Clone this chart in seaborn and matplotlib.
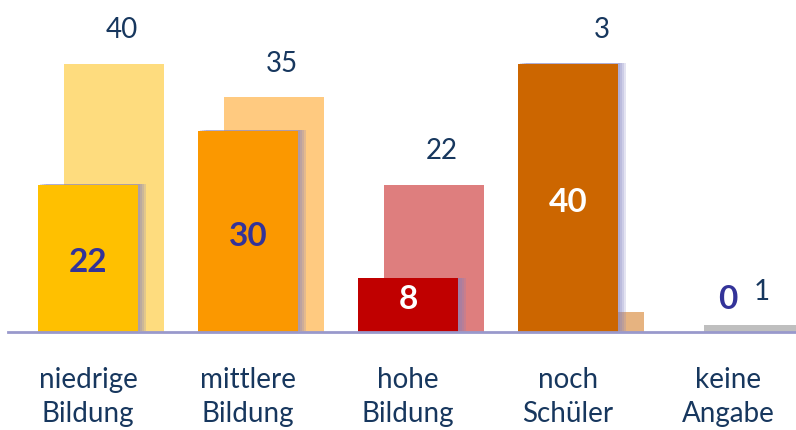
import numpy as np
import pandas as pd
import seaborn as sns
import matplotlib.pyplot as plt
import matplotlib.patheffects as pe

# Data
categories = ['niedrige\nBildung', 'mittlere\nBildung', 'hohe\nBildung', 'noch\nSchüler', 'keine\nAngabe']
front_values = [22, 30, 8, 40, 0]
back_values = [40, 35, 22, 3, 1]
front_colors = ['#FFC000', '#FB9800', '#C00000', '#CC6600', '#FFFFFF']
back_colors = ['#FEDC7E', '#FFCA80', '#DE7E7E', '#E6B380', '#BFBFBF']
front_label_colors = ['#333399', '#333399', '#FFFFFF', '#FFFFFF', '#333399']

sns.set_theme(style='white')
plt.rcParams['font.family'] = ['Lato', 'DejaVu Sans']

navy = '#17375E'
offset = 0.1625
bar_w = 0.625

fig = plt.figure(figsize=(7.96, 4.30), dpi=100)
ax = fig.add_axes([8 / 796, 98 / 430, 788 / 796, 332 / 430])

idx = np.arange(len(categories))
back_df = pd.DataFrame({'x': idx + offset, 'v': back_values})
front_df = pd.DataFrame({'x': idx.astype(float), 'v': front_values})

# back bars (previous survey)
sns.barplot(data=back_df, x='x', y='v', native_scale=True, width=bar_w, ax=ax, color='grey', saturation=1)
n_back = len(ax.patches)
for p, c in zip(ax.patches[:n_back], back_colors):
    p.set_facecolor(c)
    p.set_edgecolor('none')

# front bars with a soft shadow on the right
sns.barplot(data=front_df, x='x', y='v', native_scale=True, width=bar_w, ax=ax, color='grey', saturation=1)
shadow = [pe.SimplePatchShadow(offset=(o, 0.5), shadow_rgbFace='#8080C0', alpha=0.22) for o in (6, 4.5, 3, 1.5)]
shadow.append(pe.Normal())
for p, c, v in zip(ax.patches[n_back:], front_colors, front_values):
    p.set_facecolor(c)
    p.set_edgecolor('none')
    p.set_zorder(3)
    if v > 0:
        p.set_path_effects(shadow)

# value labels
for i in idx:
    top = max(front_values[i], back_values[i])
    ax.text(i + offset + 0.05, top + 5, str(back_values[i]), ha='center', va='center',
            fontsize=20, color=navy, zorder=5)
    fv = front_values[i]
    ax.text(i, max(fv / 2 - 0.7, 4.8), str(fv), ha='center', va='center', fontsize=24,
            fontweight='bold', color=front_label_colors[i], zorder=5)

ax.set_xlim(-0.5, 4.425)
ax.set_ylim(0, 49.55)
ax.set_xticks(idx)
ax.set_xticklabels(categories, fontsize=20, color=navy, linespacing=1.4)
ax.tick_params(axis='x', length=0, pad=25)
ax.set_yticks([])
ax.set_xlabel('')
ax.set_ylabel('')
for s in ['top', 'right', 'left']:
    ax.spines[s].set_visible(False)
ax.spines['bottom'].set_color('#9999CC')
ax.spines['bottom'].set_linewidth(2)
ax.spines['bottom'].set_zorder(4)

fig.savefig('out.png', dpi=100)
